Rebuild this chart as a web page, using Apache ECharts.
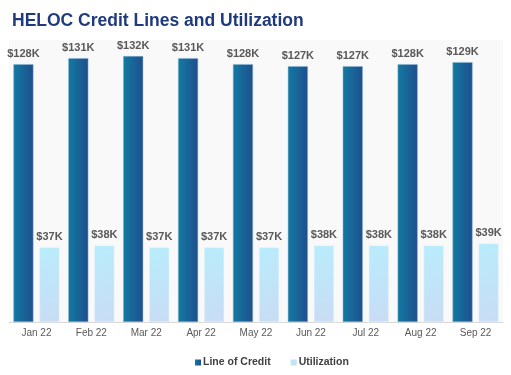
<!DOCTYPE html>
<html>
<head>
<meta charset="utf-8">
<script src="https://cdn.jsdelivr.net/npm/echarts@6/dist/echarts.min.js"></script>
<style>
  html, body { margin: 0; padding: 0; background: #fff; }
  #chart { width: 511px; height: 375px; }
</style>
</head>
<body>
<div id="chart"></div>
<script>
const months = ["Jan 22", "Feb 22", "Mar 22", "Apr 22", "May 22", "Jun 22", "Jul 22", "Aug 22", "Sep 22"];
const lineOfCredit = [128, 131, 132, 131, 128, 127, 127, 128, 129];
const utilization = [37, 38, 37, 37, 37, 38, 38, 38, 39];

const chart = echarts.init(document.getElementById("chart"));

const labelStyle = {
  show: true,
  position: "top",
  distance: 5,
  color: "#595959",
  fontFamily: "Liberation Sans, Arial, sans-serif",
  fontWeight: "bold",
  fontSize: 11,
  formatter: (p) => "$" + p.value + "K",
};

chart.setOption({
  animation: false,
  title: {
    text: "HELOC Credit Lines and Utilization",
    left: 7,
    top: 7,
    textStyle: {
      color: "#1f3b7d",
      fontFamily: "Liberation Sans, Arial, sans-serif",
      fontWeight: "bold",
      fontSize: 17.5,
    },
  },
  grid: {
    left: 9,
    right: 8,
    top: 40,
    bottom: 53,
    show: true,
    backgroundColor: "#f9f9f9",
    borderWidth: 0,
  },
  legend: {
    top: 357,
    left: 195,
    padding: 0,
    itemWidth: 6,
    itemHeight: 6,
    itemGap: 20,
    icon: "rect",
    itemStyle: { borderWidth: 0 },
    textStyle: {
      color: "#404040",
      fontFamily: "Liberation Sans, Arial, sans-serif",
      fontWeight: "bold",
      fontSize: 10.5,
      padding: [0, 0, 0, -3],
    },
    data: ["Line of Credit", "Utilization"],
  },
  xAxis: {
    type: "category",
    data: months,
    axisLine: { lineStyle: { color: "#d9d9d9" } },
    axisTick: { show: false },
    axisLabel: {
      color: "#595959",
      fontFamily: "Liberation Sans, Arial, sans-serif",
      fontSize: 10,
      margin: 6,
    },
  },
  yAxis: {
    type: "value",
    min: 0,
    max: 140,
    show: false,
    splitLine: { show: false },
  },
  series: [
    {
      name: "Line of Credit",
      type: "bar",
      data: lineOfCredit,
      barGap: "30%",
      barCategoryGap: "16%",
      itemStyle: {
        color: new echarts.graphic.LinearGradient(0, 0, 1, 0, [
          { offset: 0, color: "#127aa2" },
          { offset: 1, color: "#1f4f8d" },
        ]),
        borderColor: "#8fb6d3",
        borderWidth: 0.5,
      },
      label: labelStyle,
    },
    {
      name: "Utilization",
      type: "bar",
      data: utilization,
      itemStyle: {
        color: new echarts.graphic.LinearGradient(0, 0, 1, 1, [
          { offset: 0, color: "#b8ecfc" },
          { offset: 1, color: "#c9dcf4" },
        ]),
        borderColor: "#e6f5fc",
        borderWidth: 0.5,
      },
      label: labelStyle,
    },
  ],
});
</script>
</body>
</html>
